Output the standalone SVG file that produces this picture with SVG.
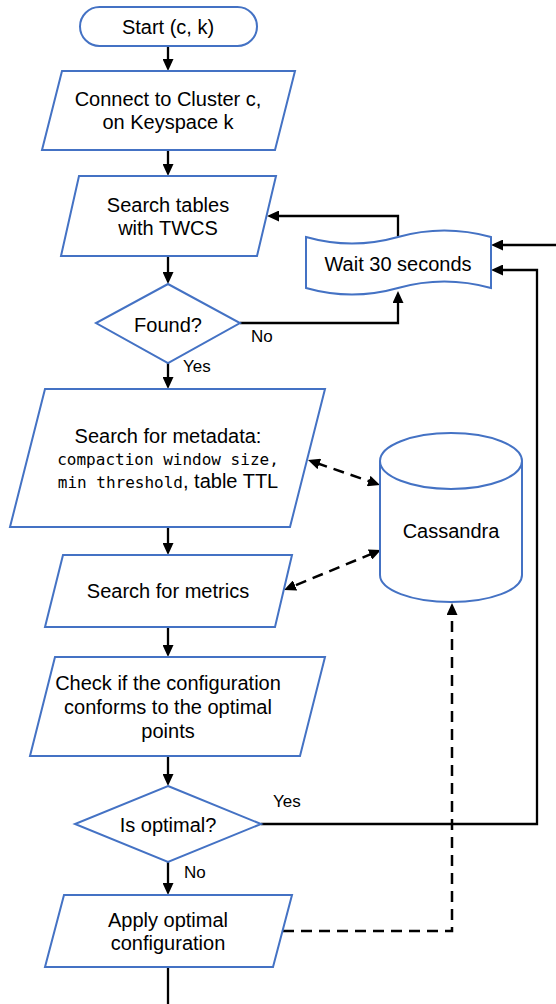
<svg xmlns="http://www.w3.org/2000/svg" width="556" height="1004" viewBox="0 0 556 1004">
<style>
.shape{fill:#fff;stroke:#4472C4;stroke-width:2}
.t{font-family:"Liberation Sans",Arial,sans-serif;font-size:20px;fill:#000;text-anchor:middle}
.lbl{font-family:"Liberation Sans",Arial,sans-serif;font-size:17px;fill:#000}
.mono{font-family:"DejaVu Sans Mono","Liberation Mono",monospace;font-size:16px}
.c{fill:none;stroke:#000;stroke-width:2.3;marker-end:url(#ah)}
.d{fill:none;stroke:#000;stroke-width:2.5;stroke-dasharray:11 7}
</style>
<defs>
<marker id="ah" viewBox="0 0 12 11" refX="3" refY="5.5" markerWidth="12" markerHeight="11" markerUnits="userSpaceOnUse" orient="auto-start-reverse"><path d="M0,0 L12,5.5 L0,11 z" fill="#000"/></marker>
</defs>
<rect width="556" height="1004" fill="#fff"/>
<g id="connectors">
<path class="c" d="M168,46 V62"/>
<path class="c" d="M168,150 V167"/>
<path class="c" d="M168,256 V275"/>
<path class="c" d="M240,323 H398 V300"/>
<path class="c" d="M398,236 V216 H276"/>
<path class="c" d="M168,363 V380"/>
<path class="c" d="M168,527 V546"/>
<path class="c" d="M168,627 V648"/>
<path class="c" d="M168,756 V777"/>
<path class="c" d="M261,824 H537 V270 H500"/>
<path class="c" d="M556,245 H500"/>
<path class="c" d="M168,862 V886"/>
<path class="c" d="M168,967 V1004" style="marker-end:none"/>
<path class="d" d="M283,931 H452 V612" marker-end="url(#ah)"/>
<path class="d" d="M316.5,463 L371.5,482" marker-start="url(#ah)" marker-end="url(#ah)"/>
<path class="d" d="M372.7,553.4 L292.3,586.6" marker-start="url(#ah)" marker-end="url(#ah)"/>
<text class="lbl" x="251" y="342">No</text>
<text class="lbl" x="183" y="372">Yes</text>
<text class="lbl" x="273" y="807">Yes</text>
<text class="lbl" x="184" y="878">No</text>
</g>
<g id="start">
<rect class="shape" x="80" y="7" width="177" height="39" rx="19.5"/>
<text class="t" x="168" y="34">Start (c, k)</text>
</g>
<g id="connect">
<polygon class="shape" points="62,71 295,71 275,150 42,150"/>
<text class="t" x="168" y="106">Connect to Cluster c,</text>
<text class="t" x="168" y="129">on Keyspace k</text>
</g>
<g id="search-tables">
<polygon class="shape" points="79,176 276,176 257,256 61,256"/>
<text class="t" x="168" y="212">Search tables</text>
<text class="t" x="168" y="235">with TWCS</text>
</g>
<g id="found">
<polygon class="shape" points="168,284 240,323 168,363 96,323"/>
<text class="t" x="168" y="332">Found?</text>
</g>
<g id="wait">
<path class="shape" d="M306,237 Q352,250 398,237 Q444,224 491,237 L491,288 Q444,275 398,288 Q352,301 306,288 Z"/>
<text class="t" x="398" y="271">Wait 30 seconds</text>
</g>
<g id="metadata">
<polygon class="shape" points="45,389 325,389 290,527 10,527"/>
<text class="t" x="168" y="443">Search for metadata:</text>
<text class="t" x="168" y="465"><tspan class="mono">compaction window size,</tspan></text>
<text class="t" x="168" y="488"><tspan class="mono">min threshold</tspan>, table TTL</text>
</g>
<g id="cassandra">
<path class="shape" d="M380,461 V575 A71,27 0 0 0 522,575 V461"/>
<ellipse class="shape" cx="451" cy="461" rx="71" ry="28"/>
<text class="t" x="451" y="538">Cassandra</text>
</g>
<g id="metrics">
<polygon class="shape" points="63,555 292,555 275,627 45,627"/>
<text class="t" x="168" y="598">Search for metrics</text>
</g>
<g id="check">
<polygon class="shape" points="55,657 325,657 300,756 30,756"/>
<text class="t" x="168" y="690">Check if the configuration</text>
<text class="t" x="168" y="714">conforms to the optimal</text>
<text class="t" x="168" y="738">points</text>
</g>
<g id="is-optimal">
<polygon class="shape" points="168,786 261,824 168,862 75,824"/>
<text class="t" x="168" y="832">Is optimal?</text>
</g>
<g id="apply">
<polygon class="shape" points="64,895 292,895 273,967 45,967"/>
<text class="t" x="168" y="927">Apply optimal</text>
<text class="t" x="168" y="950">configuration</text>
</g>
</svg>
